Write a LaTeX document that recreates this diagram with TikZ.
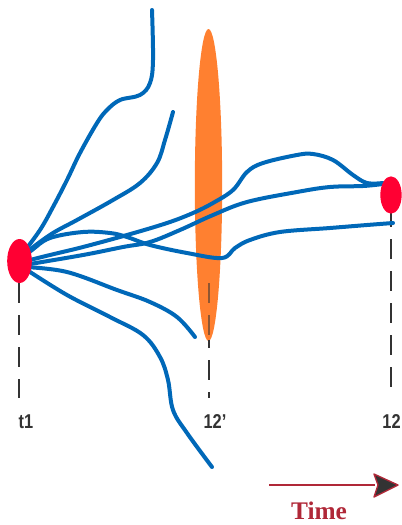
\documentclass[tikz,border=0pt]{standalone}
\usepackage{fontspec}
\usetikzlibrary{shapes.geometric}
\setmainfont{Liberation Serif}
\setsansfont{Liberation Sans}
\newcommand{\narrowlbl}[1]{\scalebox{0.82}[1]{#1}}
\begin{document}
\begin{tikzpicture}[x=0.75pt,y=-0.75pt,
  bluepath/.style={draw=pathblue,line width=3pt,line cap=round,line join=round},
  guide/.style={draw=guidegray,line width=2.2pt,dash pattern=on 15pt off 9pt},
  lbl/.style={text=guidegray,font=\sffamily\bfseries\fontsize{15}{17}\selectfont,inner sep=0pt}]
\definecolor{pathblue}{HTML}{0068B8}
\definecolor{dotred}{HTML}{FF0033}
\definecolor{lensorange}{HTML}{FF8030}
\definecolor{guidegray}{HTML}{333333}
\definecolor{timered}{HTML}{B02838}
\useasboundingbox (0,0) rectangle (402,525);
% lens
\node[draw=none,fill=lensorange,ellipse,minimum width=20.5pt,minimum height=234pt,inner sep=0pt] (lens) at (208.5,185) {};
% dashed guides
\coordinate (g1a) at (19,283); \coordinate (g1b) at (19,398);
\coordinate (g2a) at (209,283); \coordinate (g2b) at (209,398);
\coordinate (g3a) at (391,207); \coordinate (g3b) at (391,398);
\draw[guide] (g1a) -- (g1b);
\draw[guide] (g3a) -- (g3b);
\draw[guide,draw=guidegray!55!lensorange] (g2a) -- (209,340);
\draw[guide,dash phase=57pt] (209,340) -- (g2b);
% paths
\draw[bluepath] plot[smooth,tension=0.6] coordinates {(152,10) (153,60) (150,83) (140,95) (120,100) (107,110) (97,123) (80,153) (67,180) (53,207) (40,230) (23,253)};
\draw[bluepath] plot[smooth,tension=0.6] coordinates {(173,112) (165,140) (157,163) (140,183) (113,200) (77,220) (53,233) (32,248) (24,256)};
\draw[bluepath] plot[smooth,tension=0.6] coordinates {(22,258) (32,250) (50,238) (83,232) (110,233) (127,237) (150,245) (187,253) (222,258) (235,248) (250,240) (280,232) (330,228) (367,225) (393,223)};
\draw[bluepath] plot[smooth,tension=0.6] coordinates {(22,262) (50,255) (83,247) (127,235) (167,223) (193,213) (213,203) (233,190) (247,172) (263,163) (297,155) (313,154) (333,160) (353,175) (367,183) (383,183)};
\draw[bluepath] plot[smooth,tension=0.6] coordinates {(24,265) (83,255) (123,247) (150,242) (180,230) (213,215) (247,202) (297,192) (330,187) (363,186) (383,184)};
\draw[bluepath] plot[smooth,tension=0.6] coordinates {(25,267) (67,272) (117,290) (150,302) (177,317) (195,337)};
\draw[bluepath] plot[smooth,tension=0.6] coordinates {(27,270) (67,295) (110,317) (143,335) (160,357) (168,380) (173,410) (187,433) (212,467)};
% dots
\node[fill=dotred,ellipse,minimum width=18.5pt,minimum height=33pt,inner sep=0pt] (t1dot) at (19.5,261) {};
\node[fill=dotred,ellipse,minimum width=16pt,minimum height=28pt,inner sep=0pt] (t2dot) at (391,195) {};
% labels
\node[lbl] (l1) at (26,422) {\narrowlbl{t1}};
\node[lbl] (l2) at (215,422) {\narrowlbl{12'}};
\node[lbl,anchor=east] (l3) at (401,422) {\narrowlbl{12}};
% time arrow
\coordinate (ta) at (269,485);
\coordinate (tb) at (375,485);
\draw[timered,line width=1.5pt] (ta) -- (tb);
\filldraw[fill=guidegray,draw=timered,line width=1pt,line join=round] (374,474) -- (398,485) -- (374,497) -- (378,485) -- cycle;
\node[text=timered,font=\bfseries\fontsize{19}{22}\selectfont,inner sep=0pt] (time) at (319,511) {Time};
\end{tikzpicture}
\end{document}
